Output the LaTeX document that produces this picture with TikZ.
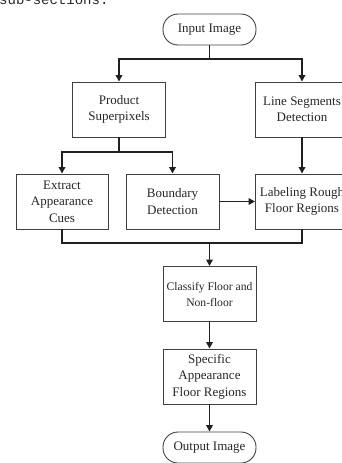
\documentclass[tikz,border=0pt]{standalone}
\usepackage{fontspec}
\setmainfont{Liberation Serif}
\newfontfamily\monofnt{Liberation Mono}
\usetikzlibrary{arrows.meta}
\definecolor{boxline}{HTML}{404040}
\definecolor{arrline}{HTML}{202020}
\tikzset{
  stepbox/.style={draw=boxline, line width=0.9pt, minimum width=93pt, minimum height=55pt,
    align=center, inner sep=1pt, font=\fontsize{13}{16.5}\selectfont, text=black!85},
  termbox/.style={stepbox, minimum height=31pt, rounded corners=15pt},
  ln/.style={draw=arrline, line width=1.9pt},
  arr/.style={ln, -{Triangle[length=6.5pt,width=6.5pt]}},
}
\begin{document}
\begin{tikzpicture}[x=1pt,y=-1pt]
\useasboundingbox (0,0) rectangle (342,463);
\clip (0,0) rectangle (342,463);
\node[anchor=base west, inner sep=0, font=\monofnt\fontsize{14}{14}\selectfont, text=black!85] (hdr) at (-1,5) {sub-sections.};
\node[termbox] (in) at (209.5,29.5) {Input Image};
\node[stepbox] (ps) at (119,109.5) {Product\\Superpixels};
\node[stepbox] (ls) at (302,109.5) {Line Segments\\Detection};
\node[stepbox, minimum width=92pt] (ex) at (62,201.5) {Extract\\Appearance\\Cues};
\node[stepbox] (bd) at (172.5,201.5) {Boundary\\Detection};
\node[stepbox] (lr) at (302,201.5) {Labeling Rough\\Floor Regions};
\node[stepbox, font=\fontsize{11.6}{16}\selectfont] (cl) at (209.5,294) {Classify Floor and\\Non-floor};
\node[stepbox] (sp) at (209.5,376.5) {Specific\\Appearance\\Floor Regions};
\node[termbox] (out) at (209.5,447.5) {Output Image};
\coordinate (j1) at (209.5,59);
\coordinate (j2) at (119,152);
\coordinate (m) at (209.5,243);
\draw[ln] (in.south) -- (j1);
\draw[arr] (j1) -| (ps.north);
\draw[arr] (j1) -| (ls.north);
\draw[ln] (ps.south) -- (j2);
\draw[arr] (j2) -| (ex.north);
\draw[arr] (j2) -| (bd.north);
\draw[arr] (ls) -- (lr);
\draw[arr] (bd) -- (lr);
\draw[ln] (ex.south) |- (m);
\draw[ln] (lr.south) |- (m);
\draw[arr] (m) -- (cl.north);
\draw[arr] (cl) -- (sp);
\draw[arr] (sp) -- (out);
\end{tikzpicture}
\end{document}
